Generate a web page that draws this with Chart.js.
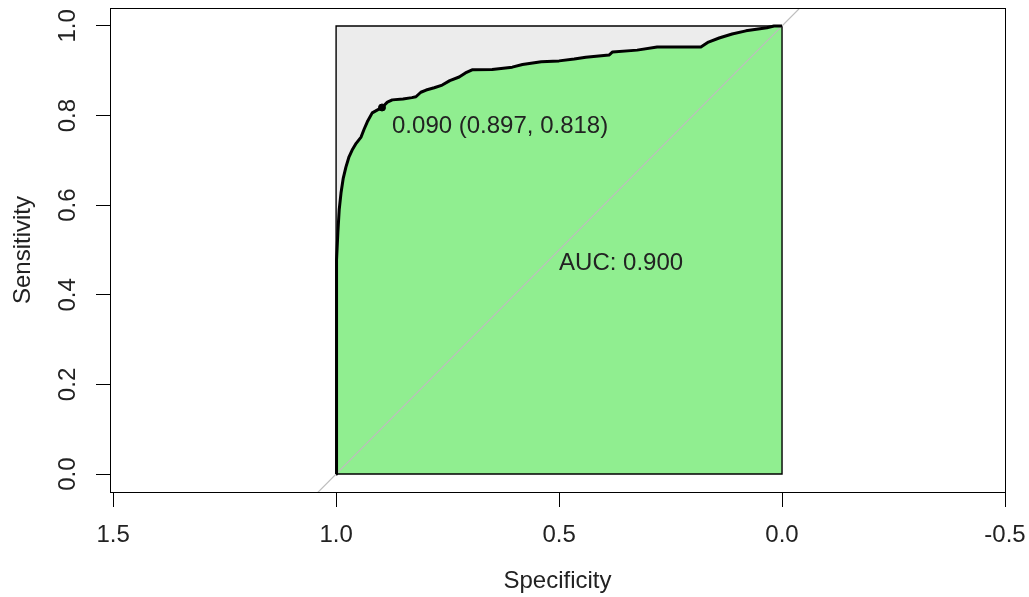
<!DOCTYPE html>
<html>
<head>
<meta charset="utf-8">
<script src="https://cdn.jsdelivr.net/npm/chart.js@4.4.1/dist/chart.umd.min.js"></script>
<style>
  html, body { margin: 0; padding: 0; background: #fff; }
</style>
</head>
<body>
<canvas id="rocChart" width="1029" height="597"></canvas>
<script>
// ROC curve (specificity goes 1 -> 0)
const specificity = [1.000, 1.000, 0.998, 0.996, 0.993, 0.989, 0.984, 0.978, 0.971, 0.964,
    0.955, 0.944, 0.937, 0.930, 0.919, 0.908, 0.897, 0.885, 0.874, 0.850,
    0.830, 0.821, 0.810, 0.798, 0.780, 0.762, 0.745, 0.724, 0.710, 0.695,
    0.650, 0.605, 0.582, 0.540, 0.500, 0.466, 0.440, 0.388, 0.380, 0.325,
    0.280, 0.230, 0.182, 0.165, 0.141, 0.112, 0.081, 0.034, 0.018, 0.000];
const sensitivity = [0.000, 0.373, 0.478, 0.540, 0.590, 0.627, 0.660, 0.685, 0.708, 0.723,
    0.738, 0.752, 0.770, 0.786, 0.806, 0.812, 0.818, 0.830, 0.835, 0.837,
    0.840, 0.842, 0.852, 0.857, 0.862, 0.868, 0.878, 0.886, 0.895, 0.902,
    0.903, 0.908, 0.914, 0.920, 0.922, 0.926, 0.930, 0.935, 0.942, 0.946,
    0.953, 0.953, 0.953, 0.964, 0.973, 0.982, 0.989, 0.996, 1.000, 1.000];

// max AUC square and identity line
const squareX = [1, 1, 0, 0, 1];
const squareY = [0, 1, 1, 0, 0];
const identityX = [1.5, -0.5];
const identityY = [-0.5, 1.5];

const xTicks = [1.5, 1.0, 0.5, 0.0, -0.5];
const yTicks = [0.0, 0.2, 0.4, 0.6, 0.8, 1.0];

const bestThres = 0.090;
const bestSpec = 0.897;
const bestSens = 0.818;
const aucValue = 0.900;

const FONT = '"Liberation Sans", Arial, sans-serif';
const TEXT = '#222';

function toPoints(xs, ys) {
    return xs.map((v, i) => ({ x: v, y: ys[i] }));
}

// box round the plot region + text labels
const rocDecor = {
    id: 'rocDecor',
    afterDatasetsDraw(chart) {
        const { ctx, chartArea: a, scales: { x, y } } = chart;
        ctx.save();
        ctx.strokeStyle = '#000';
        ctx.lineWidth = 1;
        ctx.strokeRect(Math.round(a.left) + 0.5, Math.round(a.top) + 0.5,
            Math.round(a.right - a.left), Math.round(a.bottom - a.top));

        ctx.fillStyle = TEXT;
        ctx.font = '24px ' + FONT;
        ctx.textAlign = 'left';
        ctx.textBaseline = 'alphabetic';
        ctx.fillText('AUC: ' + aucValue.toFixed(3), x.getPixelForValue(0.5), y.getPixelForValue(0.5) + 20);

        const label = bestThres.toFixed(3) + ' (' + bestSpec.toFixed(3) + ', ' + bestSens.toFixed(3) + ')';
        ctx.fillText(label, x.getPixelForValue(bestSpec) + 10, y.getPixelForValue(bestSens) + 26);
        ctx.restore();
    }
};

const ctx = document.getElementById('rocChart').getContext('2d');
const rocChart = new Chart(ctx, {
    type: 'line',
    data: {
        datasets: [
            {
                // grey square (max AUC)
                data: toPoints(squareX.slice(0, 4), squareY.slice(0, 4)),
                fill: 'origin',
                backgroundColor: '#ececec',
                borderWidth: 0,
                borderColor: 'rgba(0,0,0,0)',
                pointRadius: 0,
                order: 6
            },
            {
                // area under the curve
                data: toPoints(specificity, sensitivity),
                fill: 'origin',
                backgroundColor: '#90ee90',
                borderWidth: 0,
                borderColor: 'rgba(0,0,0,0)',
                pointRadius: 0,
                order: 5
            },
            {
                data: toPoints(squareX, squareY),
                fill: false,
                borderColor: '#000',
                borderWidth: 1.4,
                pointRadius: 0,
                order: 4
            },
            {
                data: toPoints(identityX, identityY),
                fill: false,
                borderColor: '#bdbdbd',
                borderWidth: 1.2,
                pointRadius: 0,
                order: 3
            },
            {
                // ROC curve
                data: toPoints(specificity, sensitivity),
                fill: false,
                borderColor: '#000',
                borderWidth: 3,
                pointRadius: 0,
                borderJoinStyle: 'round',
                order: 2
            },
            {
                data: [{ x: bestSpec, y: bestSens }],
                showLine: false,
                pointRadius: 3.5,
                pointBackgroundColor: '#000',
                pointBorderColor: '#000',
                order: 1
            }
        ]
    },
    options: {
        responsive: false,
        animation: false,
        layout: {
            padding: { top: 8, right: 24, left: 0, bottom: 0 }
        },
        plugins: {
            legend: { display: false },
            tooltip: { enabled: false }
        },
        scales: {
            x: {
                type: 'linear',
                reverse: true,
                min: -0.5,
                max: 1.507,
                afterBuildTicks: s => { s.ticks = xTicks.map(v => ({ value: v })); },
                afterFit: s => { s.height = 105; s.paddingLeft = 0; s.paddingRight = 0; },
                ticks: {
                    color: TEXT,
                    font: { family: FONT, size: 24 },
                    padding: 14,
                    maxRotation: 0,
                    callback: v => v.toFixed(1)
                },
                grid: {
                    drawOnChartArea: false,
                    drawTicks: true,
                    tickLength: 15,
                    tickColor: '#000'
                },
                border: { display: false },
                title: {
                    display: true,
                    text: 'Specificity',
                    color: TEXT,
                    font: { family: FONT, size: 24 },
                    padding: { top: 0, bottom: 1 }
                }
            },
            y: {
                type: 'linear',
                min: -0.04,
                max: 1.04,
                afterBuildTicks: s => { s.ticks = yTicks.map(v => ({ value: v })); },
                afterFit: s => { s.width = 110; s.paddingTop = 0; s.paddingBottom = 0; },
                ticks: {
                    color: TEXT,
                    font: { family: FONT, size: 24 },
                    padding: 11,
                    minRotation: 90,
                    maxRotation: 90,
                    crossAlign: 'center',
                    callback: v => v.toFixed(1)
                },
                grid: {
                    drawOnChartArea: false,
                    drawTicks: true,
                    tickLength: 14,
                    tickColor: '#000'
                },
                border: { display: false },
                title: {
                    display: true,
                    text: 'Sensitivity',
                    color: TEXT,
                    font: { family: FONT, size: 24 },
                    padding: { top: 9, bottom: 0 }
                }
            }
        }
    },
    plugins: [rocDecor]
});
</script>
</body>
</html>
